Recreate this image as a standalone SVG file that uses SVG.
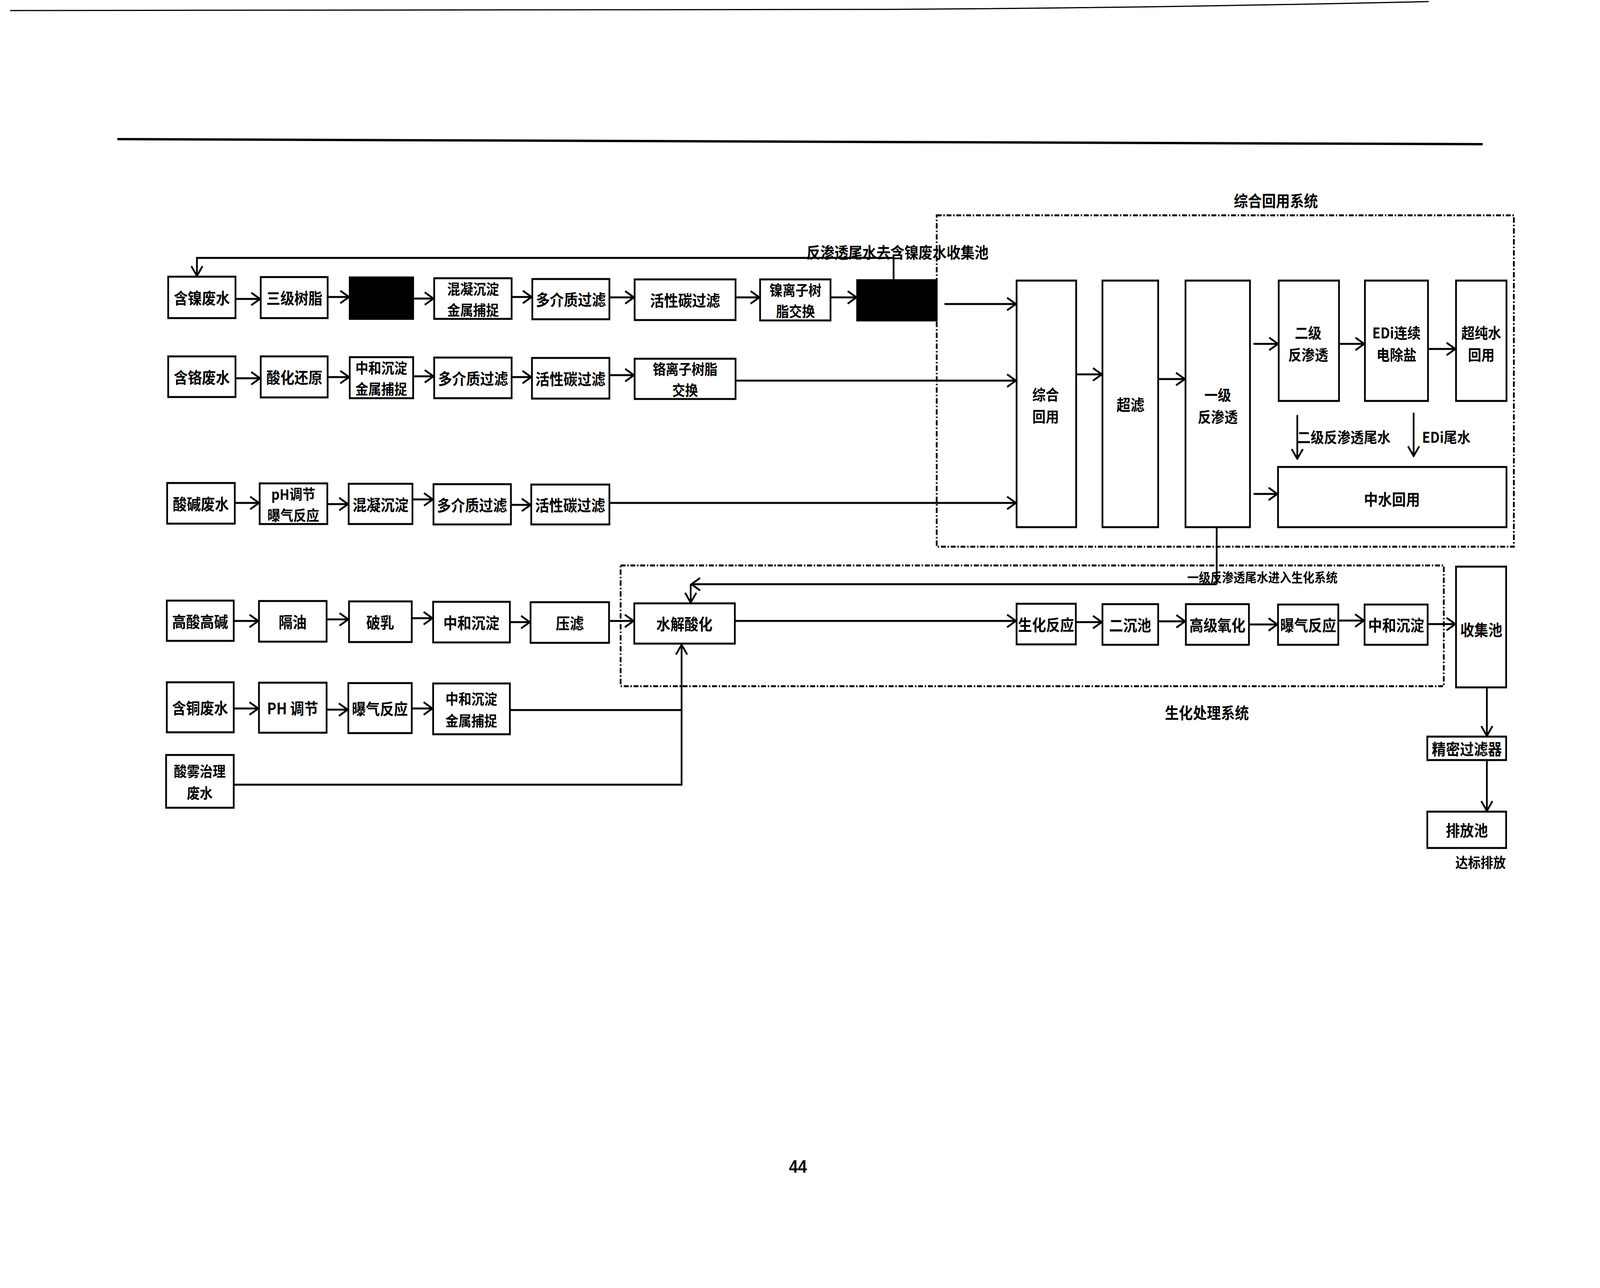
<svg xmlns="http://www.w3.org/2000/svg" width="4566" height="3296" viewBox="0 0 4566 3296">
<style>
.bx{fill:#fff;stroke:#000;stroke-width:5}
.blk{fill:#000;stroke:#000;stroke-width:5}
.t{font-family:"Noto Sans CJK SC","Liberation Sans",sans-serif;font-weight:700;font-size:40px;fill:#000;text-anchor:middle;dominant-baseline:central}
.t2{font-size:37px}
.t3{font-size:38px}
.ts{font-family:"Noto Sans CJK SC","Liberation Sans",sans-serif;font-weight:700;fill:#000;dominant-baseline:central}
.c{fill:none;stroke:#000;stroke-width:5}
.ca{fill:none;stroke:#000;stroke-width:5;marker-end:url(#arr)}
.dd{fill:none;stroke:#000;stroke-width:5;stroke-dasharray:14 5 4 5}
</style>
<defs>
<marker id="arr" viewBox="0 0 30 36" markerWidth="30" markerHeight="36" refX="27" refY="18" orient="auto" markerUnits="userSpaceOnUse">
<path d="M2,2 L27,18 L2,34" fill="none" stroke="#000" stroke-width="5"/>
</marker>
</defs>
<rect width="4566" height="3296" fill="#fff"/>
<g id="diagram" transform="scale(0.8971,1)">
<g id="page">
<path d="M29,27 L2530,24 Q3300,20 4077,4" fill="none" stroke="#000" stroke-width="3"/>
<path d="M335,356 L4231,369" fill="none" stroke="#000" stroke-width="6"/>
<text x="2277" y="2985" class="t" style="font-family:'Liberation Sans',sans-serif;font-size:46px">44</text>
</g>
<g id="systems">
<rect x="2673" y="551" width="1647" height="848" class="dd"/>
<rect x="1771" y="1447" width="2349" height="309" class="dd"/>
<text x="3641" y="512" class="t">综合回用系统</text>
<text x="3444" y="1822" class="t">生化处理系统</text>
</g>
<g id="connectors">
<path class="c" d="M2550,717 V660"/>
<path class="ca" d="M2550,660 H562 V706"/>
<text x="2561" y="644" class="t">反渗透尾水去含镍废水收集池</text>
<path class="ca" d="M672,765 H742"/>
<path class="ca" d="M935,760 H996"/>
<path class="ca" d="M1179,764 H1237"/>
<path class="ca" d="M1460,760 H1517"/>
<path class="ca" d="M1739,761 H1809"/>
<path class="ca" d="M2099,761 H2167"/>
<path class="ca" d="M2370,761 H2444"/>
<path class="ca" d="M2695,778 H2899"/>
<path class="ca" d="M672,968 H742"/>
<path class="ca" d="M935,965 H996"/>
<path class="ca" d="M1179,963 H1237"/>
<path class="ca" d="M1460,965 H1516"/>
<path class="ca" d="M1739,960 H1809"/>
<path class="ca" d="M2099,974 H2899"/>
<path class="ca" d="M670,1287 H739"/>
<path class="ca" d="M934,1290 H993"/>
<path class="ca" d="M1177,1278 H1235"/>
<path class="ca" d="M1458,1292 H1514"/>
<path class="ca" d="M1739,1287 H2899"/>
<path class="ca" d="M3071,958 H3144"/>
<path class="ca" d="M3305,970 H3381"/>
<path class="ca" d="M3577,880 H3647"/>
<path class="ca" d="M3821,880 H3893"/>
<path class="ca" d="M4075,893 H4153"/>
<path class="ca" d="M3577,1264 H3645"/>
<path class="ca" d="M3702,1062 V1174"/>
<path class="ca" d="M4034,1056 V1167"/>
<text x="3702" y="1116" class="ts" style="font-size:38px">二级反渗透尾水</text>
<text x="4058" y="1116" class="ts" style="font-size:38px">EDi尾水</text>
<path class="c" d="M3472,1349 V1495"/>
<path class="ca" d="M3472,1495 H1973"/>
<path class="ca" d="M1971,1495 V1542"/>
<text x="3388" y="1476" class="ts" style="font-size:33px">一级反渗透尾水进入生化系统</text>
<path class="ca" d="M667,1589 H737"/>
<path class="ca" d="M932,1585 H994"/>
<path class="ca" d="M1175,1582 H1234"/>
<path class="ca" d="M1455,1592 H1512"/>
<path class="ca" d="M1738,1589 H1808"/>
<path class="ca" d="M2097,1589 H2899"/>
<path class="ca" d="M3070,1592 H3144"/>
<path class="ca" d="M3305,1590 H3382"/>
<path class="ca" d="M3564,1598 H3645"/>
<path class="ca" d="M3819,1588 H3892"/>
<path class="ca" d="M4074,1597 H4153"/>
<path class="ca" d="M667,1813 H737"/>
<path class="ca" d="M932,1816 H992"/>
<path class="ca" d="M1175,1813 H1234"/>
<path class="c" d="M1455,1817 H1945"/>
<path class="ca" d="M667,2008 H1945 V1650"/>
<path class="ca" d="M4243,1759 V1883"/>
<path class="ca" d="M4243,1945 V2075"/>
<text x="4153" y="2205" class="ts" style="font-size:36px">达标排放</text>
</g>
<g id="n_ni"><rect x="480" y="708" width="192" height="106" class="bx"/><text x="576" y="761" class="t">含镍废水</text></g>
<g id="n_resin3"><rect x="744" y="709" width="191" height="105" class="bx"/><text x="840" y="761" class="t">三级树脂</text></g>
<g id="n_black1"><rect x="998" y="710" width="181" height="106" class="blk"/></g>
<g id="n_coag1"><rect x="1239" y="712" width="221" height="104" class="bx"/><text class="t t2"><tspan x="1350" y="737">混凝沉淀</tspan><tspan x="1350" y="791">金属捕捉</tspan></text></g>
<g id="n_mmf1"><rect x="1519" y="714" width="220" height="103" class="bx"/><text x="1629" y="765" class="t">多介质过滤</text></g>
<g id="n_ac1"><rect x="1811" y="715" width="288" height="104" class="bx"/><text x="1955" y="767" class="t">活性碳过滤</text></g>
<g id="n_niion"><rect x="2169" y="715" width="201" height="105" class="bx"/><text class="t t2"><tspan x="2270" y="740">镍离子树</tspan><tspan x="2270" y="794">脂交换</tspan></text></g>
<g id="n_black2"><rect x="2446" y="717" width="227" height="103" class="blk"/></g>
<g id="n_cr"><rect x="480" y="912" width="192" height="104" class="bx"/><text x="576" y="964" class="t">含铬废水</text></g>
<g id="n_acid"><rect x="744" y="912" width="191" height="105" class="bx"/><text x="840" y="964" class="t">酸化还原</text></g>
<g id="n_neut2"><rect x="998" y="914" width="181" height="105" class="bx"/><text class="t t2"><tspan x="1088" y="939">中和沉淀</tspan><tspan x="1088" y="993">金属捕捉</tspan></text></g>
<g id="n_mmf2"><rect x="1239" y="915" width="221" height="104" class="bx"/><text x="1350" y="967" class="t">多介质过滤</text></g>
<g id="n_ac2"><rect x="1518" y="916" width="221" height="104" class="bx"/><text x="1628" y="968" class="t">活性碳过滤</text></g>
<g id="n_crion"><rect x="1811" y="918" width="288" height="103" class="bx"/><text class="t t2"><tspan x="1955" y="942">铬离子树脂</tspan><tspan x="1955" y="996">交换</tspan></text></g>
<g id="n_acidbase"><rect x="477" y="1236" width="193" height="104" class="bx"/><text x="573" y="1288" class="t">酸碱废水</text></g>
<g id="n_ph"><rect x="741" y="1237" width="193" height="104" class="bx"/><text class="t t2"><tspan x="837" y="1262">pH调节</tspan><tspan x="837" y="1316">曝气反应</tspan></text></g>
<g id="n_coag3"><rect x="995" y="1238" width="182" height="103" class="bx"/><text x="1086" y="1290" class="t">混凝沉淀</text></g>
<g id="n_mmf3"><rect x="1237" y="1239" width="221" height="103" class="bx"/><text x="1347" y="1291" class="t">多介质过滤</text></g>
<g id="n_ac3"><rect x="1516" y="1240" width="223" height="102" class="bx"/><text x="1627" y="1291" class="t">活性碳过滤</text></g>
<g id="n_reuse"><rect x="2901" y="718" width="170" height="631" class="bx"/><text class="t t3"><tspan x="2984" y="1007">综合</tspan><tspan x="2984" y="1063">回用</tspan></text></g>
<g id="n_uf"><rect x="3146" y="718" width="159" height="631" class="bx"/><text x="3226" y="1034" class="t">超滤</text></g>
<g id="n_ro1"><rect x="3383" y="718" width="184" height="631" class="bx"/><text class="t t3"><tspan x="3475" y="1008">一级</tspan><tspan x="3475" y="1064">反渗透</tspan></text></g>
<g id="n_ro2"><rect x="3649" y="718" width="172" height="308" class="bx"/><text class="t t3"><tspan x="3733" y="849">二级</tspan><tspan x="3733" y="905">反渗透</tspan></text></g>
<g id="n_edi"><rect x="3895" y="718" width="180" height="308" class="bx"/><text class="t t3"><tspan x="3985" y="849">EDi连续</tspan><tspan x="3985" y="905">电除盐</tspan></text></g>
<g id="n_upw"><rect x="4155" y="718" width="144" height="308" class="bx"/><text class="t t3"><tspan x="4227" y="849">超纯水</tspan><tspan x="4227" y="905">回用</tspan></text></g>
<g id="n_mid"><rect x="3647" y="1195" width="652" height="154" class="bx"/><text x="3972" y="1276" class="t">中水回用</text></g>
<g id="n_hahb"><rect x="476" y="1537" width="191" height="103" class="bx"/><text x="571" y="1589" class="t">高酸高碱</text></g>
<g id="n_oil"><rect x="739" y="1538" width="193" height="104" class="bx"/><text x="835" y="1590" class="t">隔油</text></g>
<g id="n_demul"><rect x="996" y="1539" width="179" height="104" class="bx"/><text x="1085" y="1591" class="t">破乳</text></g>
<g id="n_neut4"><rect x="1236" y="1540" width="219" height="104" class="bx"/><text x="1345" y="1592" class="t">中和沉淀</text></g>
<g id="n_press"><rect x="1514" y="1541" width="224" height="104" class="bx"/><text x="1626" y="1593" class="t">压滤</text></g>
<g id="n_hydro"><rect x="1810" y="1544" width="287" height="103" class="bx"/><text x="1953" y="1595" class="t">水解酸化</text></g>
<g id="n_bio"><rect x="2901" y="1545" width="169" height="104" class="bx"/><text x="2985" y="1597" class="t">生化反应</text></g>
<g id="n_sec"><rect x="3146" y="1546" width="159" height="104" class="bx"/><text x="3225" y="1598" class="t">二沉池</text></g>
<g id="n_aop"><rect x="3384" y="1546" width="180" height="104" class="bx"/><text x="3474" y="1598" class="t">高级氧化</text></g>
<g id="n_aer"><rect x="3647" y="1547" width="172" height="103" class="bx"/><text x="3733" y="1598" class="t">曝气反应</text></g>
<g id="n_neut5"><rect x="3894" y="1547" width="180" height="103" class="bx"/><text x="3984" y="1598" class="t">中和沉淀</text></g>
<g id="n_collect"><rect x="4155" y="1450" width="143" height="309" class="bx"/><text x="4227" y="1610" class="t">收集池</text></g>
<g id="n_precise"><rect x="4073" y="1885" width="225" height="60" class="bx"/><text x="4186" y="1915" class="t">精密过滤器</text></g>
<g id="n_discharge"><rect x="4073" y="2077" width="225" height="93" class="bx"/><text x="4186" y="2123" class="t">排放池</text></g>
<g id="n_cu"><rect x="476" y="1746" width="191" height="128" class="bx"/><text x="571" y="1810" class="t">含铜废水</text></g>
<g id="n_ph5"><rect x="739" y="1747" width="193" height="128" class="bx"/><text x="835" y="1811" class="t">PH 调节</text></g>
<g id="n_aer5"><rect x="994" y="1748" width="181" height="128" class="bx"/><text x="1084" y="1812" class="t">曝气反应</text></g>
<g id="n_neut6"><rect x="1236" y="1749" width="219" height="130" class="bx"/><text class="t t2"><tspan x="1345" y="1786">中和沉淀</tspan><tspan x="1345" y="1842">金属捕捉</tspan></text></g>
<g id="n_mist"><rect x="474" y="1932" width="193" height="135" class="bx"/><text class="t t2"><tspan x="570" y="1971">酸雾治理</tspan><tspan x="570" y="2027">废水</tspan></text></g>
</g>
</svg>
